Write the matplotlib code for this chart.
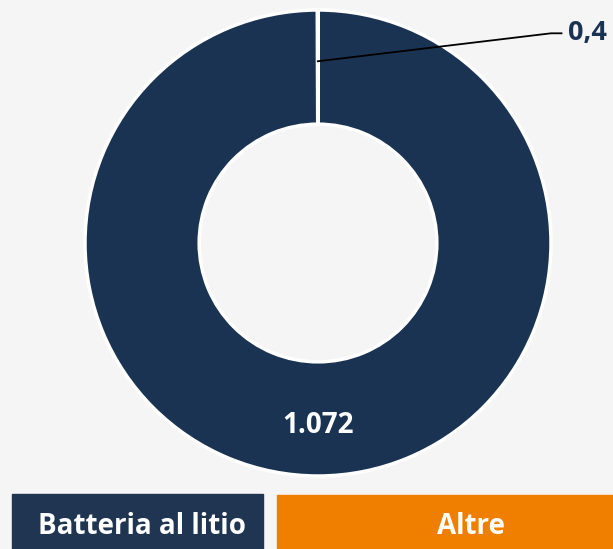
import numpy as np
import matplotlib
matplotlib.use('Agg')
import matplotlib.pyplot as plt
from matplotlib.patches import Rectangle

labels = ['Batteria al litio', 'Altre']
values = [1072, 0.4]
value_text = ['1.072', '0,4']
colors = ['#1b3352', '#f07f00']
legend_colors = ['#203552', '#f07f00']

plt.rcParams['font.family'] = ['Open Sans', 'DejaVu Sans']

W, H = 613, 549
fig = plt.figure(figsize=(W / 100, H / 100), dpi=100)
fig.patch.set_facecolor('#f5f5f5')

# donut: centre (318, 243) px from top, radius 233 px
cx, cy, r = 318, 243, 233
ax = fig.add_axes([(cx - r) / W, (H - cy - r) / H, 2 * r / W, 2 * r / H])
ax.set_facecolor('#f5f5f5')
wedges, _ = ax.pie(values, colors=colors, startangle=90, counterclock=False,
                   radius=1, wedgeprops=dict(width=0.49, edgecolor='white', linewidth=2.5))
ax.set_xlim(-1, 1)
ax.set_ylim(-1, 1)
ax.set_aspect('equal')
ax.axis('off')

# big slice label at the bottom
ax.text(0, -0.785, value_text[0], ha='center', va='center', color='white',
        fontsize=20, fontweight='bold')

# small slice label with leader line
w = wedges[1]
ang = np.deg2rad((w.theta1 + w.theta2) / 2)
p0 = (0.78 * np.cos(ang), 0.78 * np.sin(ang))
ax.plot([p0[0], 1.0, 1.045], [p0[1], 0.90, 0.90], color='black', lw=1.3,
        clip_on=False)
ax.text(1.075, 0.90, value_text[1], ha='left', va='center', color='#1b3352',
        fontsize=19.5, fontweight='bold')

# legend boxes at the bottom
boxes = [(12, 494, 251, 142), (277, 495, 336, 471)]
for (x0, y0, bw, tx), lab, col in zip(boxes, labels, legend_colors):
    fig.patches.append(Rectangle((x0 / W, 0), bw / W, (H - y0) / H,
                                 transform=fig.transFigure, color=col))
    fig.text(tx / W, (H - 526) / H, lab, ha='center', va='center',
             color='white', fontsize=20, fontweight='bold')

fig.savefig('out.png', dpi=100, facecolor=fig.get_facecolor())
